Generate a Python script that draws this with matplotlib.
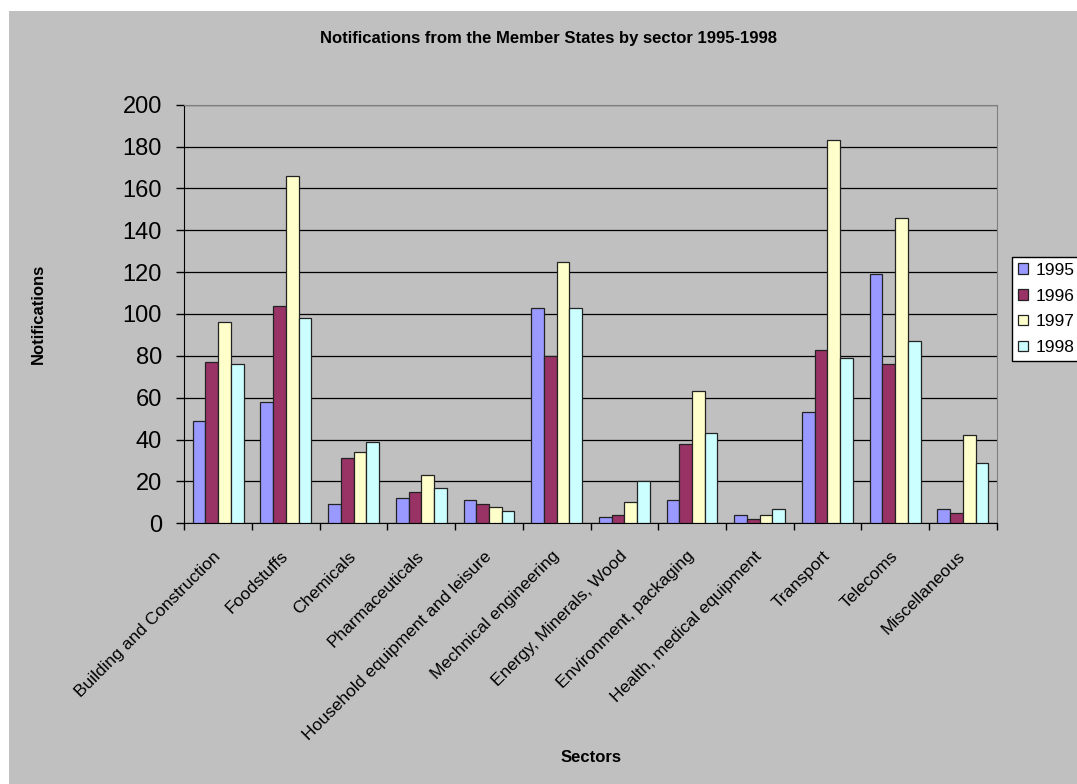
import numpy as np
import matplotlib
matplotlib.use("Agg")
import matplotlib.pyplot as plt
from matplotlib.patches import Rectangle
from matplotlib.ticker import MultipleLocator

plt.rcParams['font.family'] = ['Liberation Sans', 'DejaVu Sans']

sectors = [
    'Building and Construction', 'Foodstuffs', 'Chemicals', 'Pharmaceuticals',
    'Household equipment and leisure', 'Mechnical engineering',
    'Energy, Minerals, Wood', 'Environment, packaging',
    'Health, medical equipment', 'Transport', 'Telecoms', 'Miscellaneous',
]
years = ['1995', '1996', '1997', '1998']
n_1995 = [49, 58, 9, 12, 11, 103, 3, 11, 4, 53, 119, 7]
n_1996 = [77, 104, 31, 15, 9, 80, 4, 38, 2, 83, 76, 5]
n_1997 = [96, 166, 34, 23, 8, 125, 10, 63, 4, 183, 146, 42]
n_1998 = [76, 98, 39, 17, 6, 103, 20, 43, 7, 79, 87, 29]
series = [n_1995, n_1996, n_1997, n_1998]
colors = ['#9999FF', '#993366', '#FFFFCC', '#CCFFFF']

W, H = 1077, 784
fig = plt.figure(figsize=(W / 100, H / 100), dpi=100, facecolor='white')

# grey chart area with a thin white margin at top and left
fig.patches.append(Rectangle((9 / W, 0), 1 - 9 / W, 1 - 11 / H,
                             transform=fig.transFigure, facecolor='#C0C0C0',
                             edgecolor='none', zorder=-10))

ax = fig.add_axes([184.3 / W, 1 - 523.3 / H, (996.7 - 184.3) / W, (523.3 - 104.7) / H])
ax.set_facecolor('#C0C0C0')

x = np.arange(len(sectors))
bw = 0.1875
for k, (vals, col, yr) in enumerate(zip(series, colors, years)):
    ax.bar(x + (k - 1.5) * bw, vals, width=bw, color=col, edgecolor='#222222',
           linewidth=0.9, label=yr, zorder=3)

ax.set_xlim(-0.5, len(sectors) - 0.5)
ax.set_ylim(0, 200)
ax.yaxis.set_major_locator(MultipleLocator(20))
ax.yaxis.grid(True, color='black', linewidth=0.9, zorder=0)
ax.set_axisbelow(True)
ax.get_ygridlines()[-1].set_visible(False)

for s in ['top', 'right']:
    ax.spines[s].set_color('#808080')
for s in ['left', 'bottom']:
    ax.spines[s].set_color('black')

ax.tick_params(axis='y', direction='out', length=6, width=1, labelsize=17, pad=10)
ax.set_xticks(x)
ax.set_xticks(np.arange(-0.5, len(sectors)), minor=True)
ax.tick_params(axis='x', which='major', length=0, pad=22)
ax.tick_params(axis='x', which='minor', direction='out', length=5, width=1)
ax.set_xticklabels(sectors, rotation=45, ha='right', va='center',
                   rotation_mode='anchor', fontsize=12.5)

fig.text(548.5 / W, 1 - 39 / H, 'Notifications from the Member States by sector 1995-1998',
         ha='center', va='center', fontsize=12, fontweight='bold')
fig.text(38 / W, 1 - 313.5 / H, 'Notifications', rotation=90, ha='center',
         va='center', fontsize=12, fontweight='bold')
fig.text(591 / W, 1 - 758 / H, 'Sectors', ha='center', va='center',
         fontsize=12, fontweight='bold')

leg = fig.legend(loc='upper left', bbox_to_anchor=(1012 / W, 1 - 256.7 / H),
                 bbox_transform=fig.transFigure, borderaxespad=0, fontsize=12.5,
                 frameon=True, fancybox=False, shadow=False, handlelength=0.55,
                 handleheight=0.55, handletextpad=0.45, labelspacing=0.62,
                 borderpad=0.35)
leg.get_frame().set_facecolor('white')
leg.get_frame().set_edgecolor('black')
leg.get_frame().set_linewidth(1)
leg.get_frame().set_alpha(1)

fig.savefig('out.png', dpi=100, facecolor=fig.get_facecolor())
